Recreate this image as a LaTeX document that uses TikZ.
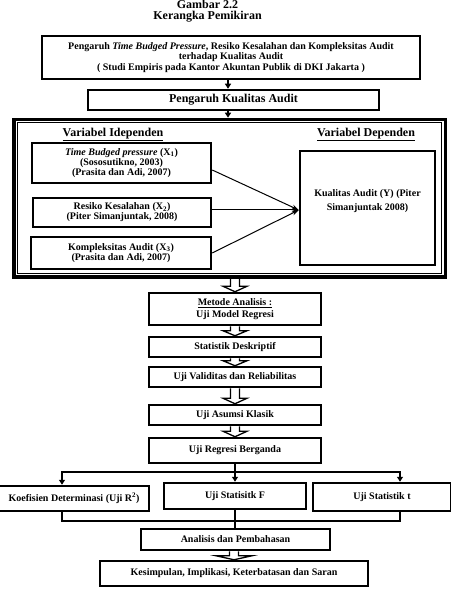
\documentclass[tikz,border=0pt]{standalone}
\usepackage{fontspec}
\setmainfont{Liberation Serif}
\usetikzlibrary{arrows.meta,calc}

\tikzset{
  kotak/.style={draw, line width=2.5pt, inner sep=1pt, align=center,
    font=\fontsize{10}{9}\selectfont\bfseries},
  teks/.style={inner sep=0pt, align=center, font=\fontsize{10}{9}\selectfont\bfseries},
  panah/.style={line width=1.6pt, -{Triangle[length=5pt,width=6pt]}},
  garis/.style={line width=1.6pt},
  panahtipis/.style={line width=1pt, -{Stealth[length=7pt,width=5pt]}},
  % panah blok berongga (dua argumen: setengah lebar kepala, panjang kepala)
  blok/.style 2 args={draw, line width=1.3pt, line join=miter,
    to path={let \p1=(\tikztostart), \p2=(\tikztotarget) in
      (\x1-4.5pt,\y1) -- (\x1-4.5pt,\y2+#2) -- (\x1-#1,\y2+#2) -- (\x1,\y2)
      -- (\x1+#1,\y2+#2) -- (\x1+4.5pt,\y2+#2) -- (\x1+4.5pt,\y1)}}
}

\begin{document}
\begin{tikzpicture}[x=1pt,y=-1pt]
  \useasboundingbox (0,0) rectangle (450,612);

  % Judul
  \node[teks, anchor=north, font=\fontsize{12}{11}\selectfont\bfseries] (judul) at (207.5,0.3)
    {Gambar 2.2\\ Kerangka Pemikiran};

  % Topik penelitian
  \node[kotak, minimum width=378pt, minimum height=43pt] (topik) at (231,57.5)
    {Pengaruh \textit{Time Budged Pressure}, Resiko Kesalahan dan Kompleksitas Audit\\
     terhadap Kualitas Audit\\
     ( Studi Empiris pada Kantor Akuntan Publik di DKI Jakarta )};
  \node[kotak, minimum width=291pt, minimum height=20pt,
    font=\fontsize{12}{12}\selectfont\bfseries] (pengaruh) at (233.5,100) {Pengaruh Kualitas Audit};

  % Kerangka variabel
  \node[draw, line width=3.5pt, minimum width=431.7pt, minimum height=157.5pt, inner sep=0pt] (kerangka) at (229.6,198.2) {};
  \draw[line width=.8pt] ([shift={(5.5pt,-5pt)}]kerangka.north west) rectangle ([shift={(-5.5pt,5pt)}]kerangka.south east);

  \draw[panah] ([xshift=-3pt]topik.south) -- ([xshift=-3pt]topik.south |- pengaruh.north);
  \draw[panah] ([xshift=-5.5pt]pengaruh.south) -- ([xshift=-5.5pt]pengaruh.south |- kerangka.north);

  \node[teks, anchor=base, font=\fontsize{12}{12}\selectfont\bfseries] (hIndep) at (113,136.7) {\underline{Variabel Idependen}};
  \node[teks, anchor=base, font=\fontsize{12}{12}\selectfont\bfseries] (hDep) at (366,136.7) {\underline{Variabel Dependen}};

  \node[kotak, minimum width=179pt, minimum height=40pt] (x1) at (121.5,163)
    {\textit{Time Budged pressure} (X\textsubscript{1})\\ (Sososutikno, 2003)\\ (Prasita dan Adi, 2007)};
  \node[kotak, minimum width=178pt, minimum height=29pt] (x2) at (122,212.5)
    {Resiko Kesalahan (X\textsubscript{2})\\ (Piter Simanjuntak, 2008)};
  \node[kotak, minimum width=180pt, minimum height=32pt] (x3) at (121,253)
    {Kompleksitas Audit (X\textsubscript{3})\\ (Prasita dan Adi, 2007)};

  \node[kotak, minimum width=135pt, minimum height=114pt] (kualitas) at (367.5,208) {};
  \node[teks, font=\fontsize{10}{14}\selectfont\bfseries] (kualitasteks) at (367.5,201)
    {Kualitas Audit (Y) (Piter\\ Simanjuntak 2008)};

  \coordinate (tuju) at ([yshift=-2pt]kualitas.west);
  \draw[panahtipis] ([yshift=-7pt]x1.east) -- (tuju);
  \draw[panahtipis] (x2.east |- tuju) -- (tuju);
  \draw[panahtipis] (x3.east) -- (tuju);

  % Metode analisis
  \node[kotak, minimum width=172pt, minimum height=32pt, font=\fontsize{10}{12}\selectfont\bfseries] (metode) at (235,309)
    {\underline{Metode Analisis :}\\ Uji Model Regresi};
  \node[kotak, minimum width=172pt, minimum height=20pt] (statistik) at (235,347) {Statistik Deskriptif};
  \node[kotak, minimum width=172pt, minimum height=20pt] (validitas) at (235,377) {Uji Validitas dan Reliabilitas};
  \node[kotak, minimum width=172pt, minimum height=20pt] (asumsi) at (235,415) {Uji Asumsi Klasik};
  \node[kotak, minimum width=172pt, minimum height=25pt] (regresi) at (235,450.5) {Uji Regresi Berganda};

  \draw[blok={12pt}{5.5pt}] (kerangka.south -| metode) to (metode.north);
  \draw[blok={12pt}{5pt}] (metode.south) to (statistik.north);
  \draw[blok={12pt}{5pt}] (statistik.south) to (validitas.north);
  \draw[blok={12pt}{5.5pt}] (validitas.south) to (asumsi.north);
  \draw[blok={12pt}{5.5pt}] (asumsi.south) to (regresi.north);

  % Uji hipotesis
  \node[kotak, minimum width=150pt, minimum height=25pt] (koef) at (74,498.5) {Koefisien Determinasi (Uji R\textsuperscript{2})};
  \node[kotak, minimum width=142pt, minimum height=26pt] (ujiF) at (235,496) {Uji Statisitk F};
  \node[kotak, minimum width=138pt, minimum height=28pt] (ujit) at (382,497) {Uji Statistik t};

  \coordinate (cabang) at (235,472);
  \coordinate (gabung) at (235,521);
  \draw[garis] (regresi.south) -- (cabang);
  \draw[panah] (cabang) -| ([xshift=-12pt]koef.north);
  \draw[panah] (cabang) -- (ujiF.north);
  \draw[panah] (cabang) -| ([xshift=18pt]ujit.north);
  \draw[garis] ([xshift=-12pt]koef.south) |- (gabung) -| ([xshift=18pt]ujit.south);

  \node[kotak, minimum width=189pt, minimum height=21pt] (analisis) at (235.5,539.5) {Analisis dan Pembahasan};
  \node[kotak, minimum width=268pt, minimum height=25pt] (kesimpulan) at (234,573.5) {Kesimpulan, Implikasi, Keterbatasan dan Saran};

  \draw[garis] (ujiF.south) -- (analisis.north -| ujiF.south);
  \draw[blok={18pt}{4pt}] (analisis.south -| kesimpulan) to (kesimpulan.north);
\end{tikzpicture}
\end{document}
